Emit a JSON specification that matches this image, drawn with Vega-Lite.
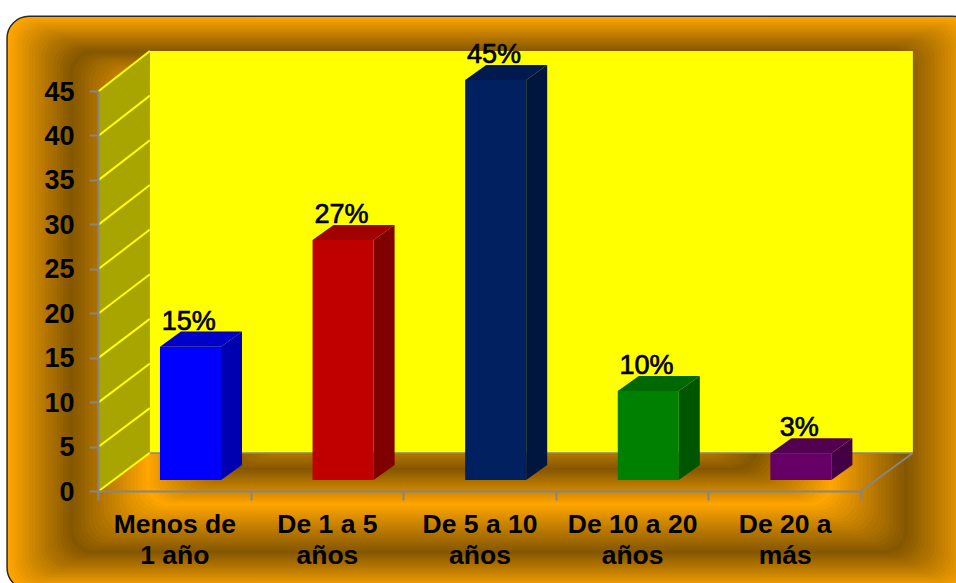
{"$schema":"https://vega.github.io/schema/vega-lite/v6.json","width":763,"height":400,"autosize":"none","padding":{"left":98,"top":91,"right":95,"bottom":92},"background":"#ffffff","config":{"view":{"stroke":null},"font":"Liberation Sans"},
"datasets":{"datos":[{"categoria":"Menos de 1 año","valor":15},{"categoria":"De 1 a 5 años","valor":27},{"categoria":"De 5 a 10 años","valor":45},{"categoria":"De 10 a 20 años","valor":10},{"categoria":"De 20 a más","valor":3}],
"marcas":[{"v":0},{"v":5},{"v":10},{"v":15},{"v":20},{"v":25},{"v":30},{"v":35},{"v":40},{"v":45}],
"plano":[{"d":0},{"d":1}],
"niveles":[{"l":0},{"l":0.05},{"l":0.1},{"l":0.15},{"l":0.2},{"l":0.25},{"l":0.3},{"l":0.35},{"l":0.4},{"l":0.45},{"l":0.5},{"l":0.55},{"l":0.6},{"l":0.65},{"l":0.7},{"l":0.75},{"l":0.8},{"l":0.85},{"l":0.9},{"l":0.95},{"l":1},{"l":1.05},{"l":1.1},{"l":1.15},{"l":1.2},{"l":1.25},{"l":1.3},{"l":1.35},{"l":1.4},{"l":1.45},{"l":1.5},{"l":1.55},{"l":1.6},{"l":1.65},{"l":1.7},{"l":1.75},{"l":1.8},{"l":1.85},{"l":1.9},{"l":1.95},{"l":2},{"l":2.05},{"l":2.1},{"l":2.15},{"l":2.2},{"l":2.25},{"l":2.3},{"l":2.35},{"l":2.4},{"l":2.45},{"l":2.5},{"l":2.55},{"l":2.6},{"l":2.65},{"l":2.7},{"l":2.75},{"l":2.8},{"l":2.85},{"l":2.9},{"l":2.95},{"l":3},{"l":3.05},{"l":3.1},{"l":3.15},{"l":3.2},{"l":3.25},{"l":3.3},{"l":3.35},{"l":3.4},{"l":3.45},{"l":3.5}]},
"resolve":{"axis":{"x":"independent","y":"independent"},"scale":{"color":"independent"}},
"encoding":{"x":{"field":"x0","type":"quantitative","scale":{"domain":[0,5],"nice":false,"zero":false},"axis":null,"stack":null},"y":{"field":"y0","type":"quantitative","scale":{"domain":[0,45],"nice":false,"zero":false},"axis":null,"stack":null}},
"layer":[
{"data":{"name":"niveles"},"transform":[{"calculate":"-0.596+(datum.l<=1?0.41*datum.l:0.41+0.5*(datum.l-1))","as":"x0"},{"calculate":"5.747-(datum.l<=1?0.44*datum.l:0.44+0.49*(datum.l-1))","as":"x1"},{"calculate":"53.4-3.9*datum.l","as":"y1"},{"calculate":"-11.1+(datum.l<=1?4.1*datum.l:datum.l<=2?4.1+5.4*(datum.l-1):9.5+3.96*(datum.l-2))","as":"y0"}],
"mark":{"type":"rect","cornerRadius":22,"clip":false},
"encoding":{"x":{"field":"x0","type":"quantitative","stack":null,"scale":{"domain":[0,5],"nice":false,"zero":false},"axis":{"orient":"bottom","values":[0,1,2,3,4,5],"labels":false,"title":null,"grid":false,"domainColor":"#868686","domainWidth":2,"tickColor":"#868686","tickWidth":2,"tickSize":9,"zindex":1}},"x2":{"field":"x1"},"y":{"field":"y0","type":"quantitative","stack":null,"scale":{"domain":[0,45],"nice":false,"zero":false},"axis":{"orient":"left","values":[0,5,10,15,20,25,30,35,40,45],"title":null,"grid":false,"domainColor":"#868686","domainWidth":2,"tickColor":"#868686","tickWidth":2,"tickSize":9,"labelPadding":15,"labelOffset":1,"labelFont":"Liberation Sans","labelFontSize":27,"labelFontWeight":"bold","labelColor":"#000000","zindex":1}},"y2":{"field":"y1"},"color":{"field":"l","type":"quantitative","legend":null,"scale":{"domain":[0,1,2,3,3.5],"range":["#ffa500","#855700","#ffa500","#855700","#b87a00"]}}}},
{"data":{"name":"niveles"},"transform":[{"filter":"datum.l===0"},{"calculate":"-0.596","as":"x0"},{"calculate":"5.747","as":"x1"},{"calculate":"53.4","as":"y1"},{"calculate":"-11.1","as":"y0"}],
"mark":{"type":"rect","cornerRadius":22,"clip":false,"fillOpacity":0,"stroke":"#2a2a2a","strokeWidth":1.5},
"encoding":{"x":{"field":"x0","type":"quantitative","stack":null,"axis":{"orient":"bottom","values":[0.5,1.5,2.5,3.5,4.5],"title":null,"grid":false,"domain":false,"ticks":false,"labelPadding":20,"labelFont":"Liberation Sans","labelFontSize":26.5,"labelFontWeight":"bold","labelColor":"#000000","labelLineHeight":31,"labelOverlap":false,"labelFlush":false,"labelBound":false,"labelExpr":"datum.value<1?['Menos de','1 año']:datum.value<2?['De 1 a 5','años']:datum.value<3?['De 5 a 10','años']:datum.value<4?['De 10 a 20','años']:['De 20 a','más']","zindex":1}},"x2":{"field":"x1"},"y2":{"field":"y1"}}},
{"data":{"name":"plano"},"transform":[{"filter":"datum.d===0"},{"calculate":"0.34","as":"x0"},{"calculate":"5.34","as":"x1"},{"calculate":"4.27","as":"y0"},{"calculate":"49.5","as":"y1"}],
"mark":{"type":"rect","color":"#ffff00"},"encoding":{"x2":{"field":"x1"},"y2":{"field":"y1"}}},
{"data":{"name":"plano"},"transform":[{"calculate":"0.34*datum.d","as":"x0"},{"calculate":"4.27*datum.d","as":"y0"},{"calculate":"45+4.5*datum.d","as":"y1"}],
"mark":{"type":"area","color":"#a8a400","orient":"vertical"},"encoding":{"y2":{"field":"y1"}}},
{"data":{"name":"marcas"},"transform":[{"calculate":"0.005","as":"x0"},{"calculate":"0.34","as":"x1"},{"calculate":"datum.v","as":"y0"},{"calculate":"datum.v+4.3+0.2*datum.v/45","as":"y1"}],
"mark":{"type":"rule","color":"#ffff00","strokeWidth":2},"encoding":{"x2":{"field":"x1"},"y2":{"field":"y1"}}},
{"data":{"name":"plano"},"transform":[{"filter":"datum.d===0"},{"calculate":"0.34","as":"x0"},{"calculate":"5.34","as":"x1"},{"calculate":"4.27","as":"y0"}],
"mark":{"type":"rule","color":"#868686","strokeWidth":1.5},"encoding":{"x2":{"field":"x1"}}},
{"data":{"name":"plano"},"transform":[{"filter":"datum.d===0"},{"calculate":"5","as":"x0"},{"calculate":"5.34","as":"x1"},{"calculate":"0","as":"y0"},{"calculate":"4.27","as":"y1"}],
"mark":{"type":"rule","color":"#868686","strokeWidth":2},"encoding":{"x2":{"field":"x1"},"y2":{"field":"y1"}}},
{"data":{"name":"datos"},"transform":[{"window":[{"op":"row_number","as":"n"}]},{"calculate":"[0,1]","as":"d"},{"flatten":["d"]},{"calculate":"datum.n-0.394+0.2+0.1376*datum.d","as":"x0"},{"calculate":"1.24+1.69*datum.d","as":"y0"},{"calculate":"datum.y0+datum.valor","as":"y1"}],
"mark":{"type":"area","orient":"vertical"},"encoding":{"y2":{"field":"y1"},"color":{"field":"categoria","type":"nominal","legend":null,"sort":null,"scale":{"domain":["Menos de 1 año","De 1 a 5 años","De 5 a 10 años","De 10 a 20 años","De 20 a más"],"range":["#0000b0","#800000","#00163f","#005500","#440044"]}}}},
{"data":{"name":"datos"},"transform":[{"window":[{"op":"row_number","as":"n"}]},{"calculate":"[0,1]","as":"d"},{"flatten":["d"]},{"calculate":"datum.n-0.394-0.2+0.1376*datum.d","as":"x0"},{"calculate":"datum.x0+0.4","as":"x1"},{"calculate":"1.24+datum.valor+1.69*datum.d","as":"y0"}],
"mark":{"type":"area","orient":"horizontal"},"encoding":{"x2":{"field":"x1"},"color":{"field":"categoria","type":"nominal","legend":null,"sort":null,"scale":{"domain":["Menos de 1 año","De 1 a 5 años","De 5 a 10 años","De 10 a 20 años","De 20 a más"],"range":["#0000c8","#a00000","#001a4f","#006800","#520052"]}}}},
{"data":{"name":"datos"},"transform":[{"window":[{"op":"row_number","as":"n"}]},{"calculate":"datum.n-0.394-0.2","as":"x0"},{"calculate":"datum.n-0.394+0.2","as":"x1"},{"calculate":"1.24","as":"y0"},{"calculate":"1.24+datum.valor","as":"y1"}],
"mark":{"type":"rect"},"encoding":{"x2":{"field":"x1"},"y2":{"field":"y1"},"color":{"field":"categoria","type":"nominal","legend":null,"sort":null,"scale":{"domain":["Menos de 1 año","De 1 a 5 años","De 5 a 10 años","De 10 a 20 años","De 20 a más"],"range":["#0000ff","#c00000","#002060","#008000","#660066"]}}}},
{"data":{"name":"datos"},"transform":[{"window":[{"op":"row_number","as":"n"}]},{"calculate":"datum.n-0.405","as":"x0"},{"calculate":"datum.valor+3.15","as":"y0"},{"calculate":"datum.valor+'%'","as":"etiqueta"}],
"mark":{"type":"text","font":"Liberation Sans","fontSize":27,"align":"center","baseline":"alphabetic","color":"#000000","stroke":"#000000","strokeWidth":0.7,"clip":false},"encoding":{"text":{"field":"etiqueta","type":"nominal"}}}
]}
